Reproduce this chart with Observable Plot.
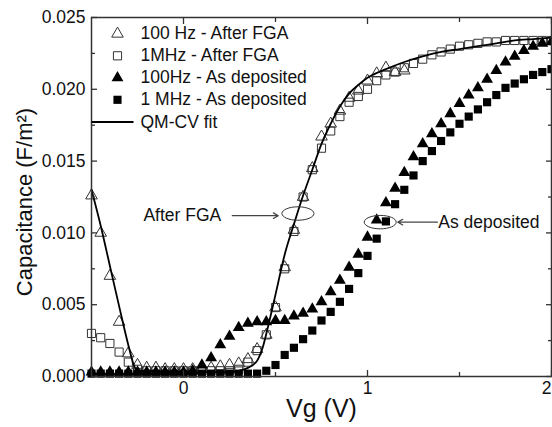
<!DOCTYPE html>
<html><head><meta charset="utf-8">
<script src="https://cdn.jsdelivr.net/npm/d3@7"></script>
<script src="https://cdn.jsdelivr.net/npm/@observablehq/plot@0.6"></script>
<style>html,body{margin:0;padding:0;background:#fff;}</style>
</head><body><div id="chart"></div>
<script>
// Gate voltage (V) at which the measured points were taken
const vg = [-0.5,-0.45,-0.4,-0.35,-0.3,-0.25,-0.2,-0.15,-0.1,-0.05,0,0.05,0.1,0.15,0.2,0.25,0.3,0.35,0.4,0.45,0.5,0.55,0.6,0.65,0.7,0.75,0.8,0.85,0.9,0.95,1.0,1.05,1.1,1.15,1.2,1.25,1.3,1.35,1.4,1.45,1.5,1.55,1.6,1.65,1.7,1.75,1.8,1.85,1.9,1.95,2.0];

// Capacitance (F/m^2)
const cap100HzFGA = [0.0126,0.0100,0.0070,0.0038,0.0016,0.0008,0.0006,0.0006,0.0005,0.0005,0.0005,0.0005,0.0005,0.0006,0.0007,0.0008,0.0009,0.0012,0.0019,0.0029,0.0048,0.0076,0.0102,0.0125,0.0145,0.0167,0.0176,0.0185,0.0194,0.0199,0.0206,0.0211,0.0215,0.0212,0.0213,null,null,null,null,null,null,null,null,null,null,null,null,null,null,null,null];
const cap1MHzFGA = [0.0030,0.0027,0.0023,0.0017,0.0010,0.0005,0.0004,0.0004,0.0004,0.0004,0.0004,0.0004,0.0004,0.0004,0.0004,0.0004,0.0005,0.0010,0.0018,0.0029,0.0048,0.0075,0.0101,0.0125,0.0144,0.0159,0.0171,0.0181,0.0191,0.0195,0.0200,0.0206,0.0210,0.0212,0.0215,0.0218,0.0221,0.0224,0.0226,0.0228,0.0230,0.0231,0.0232,0.0233,0.0233,0.0234,0.0234,0.0234,0.0234,0.0234,0.0234];
const cap100HzDep = [0.0003,0.0003,0.0003,0.0003,0.0003,0.0003,0.0003,0.0003,0.0003,0.0003,0.0003,0.0004,0.0008,0.0013,0.0022,0.0028,0.0034,0.0037,0.0038,0.0038,0.0039,0.0039,0.0042,0.0044,0.0047,0.0052,0.0059,0.0067,0.0076,0.0085,0.0097,0.0109,0.0121,0.0131,0.0142,0.0153,0.0162,0.0169,0.0176,0.0183,0.0190,0.0196,0.0201,0.0207,0.0213,0.0219,0.0223,0.0227,0.0230,0.0232,0.0233];
const cap1MHzDep = [0.0002,0.0002,0.0002,0.0002,0.0002,0.0002,0.0002,0.0002,0.0002,0.0002,0.0002,0.0002,0.0002,0.0002,0.0002,0.0002,0.0002,0.0002,0.0002,0.0004,0.0008,0.0015,0.0020,0.0026,0.0032,0.0039,0.0045,0.0052,0.0061,0.0072,0.0084,0.0096,0.0108,0.0120,0.0130,0.0140,0.0150,0.0157,0.0164,0.0170,0.0176,0.0181,0.0186,0.0191,0.0196,0.0201,0.0204,0.0207,0.0210,0.0212,0.0214];

// QM-CV fit curve
const fitV = [-0.5,-0.45,-0.4,-0.35,-0.3,-0.27,-0.25,0,0.25,0.3,0.35,0.4,0.43,0.46,0.5,0.55,0.6,0.65,0.7,0.75,0.8,0.85,0.9,0.95,1.0,1.1,1.2,1.3,1.4,1.5,1.6,1.7,1.8,1.9,2.0];
const fitC = [0.0130,0.0105,0.0077,0.0049,0.0022,0.0008,0.0004,0.0003,0.0003,0.0004,0.0006,0.0011,0.0020,0.0035,0.0057,0.0085,0.0106,0.0126,0.0144,0.0162,0.0176,0.0188,0.0197,0.0203,0.0208,0.0214,0.0219,0.0223,0.0226,0.0228,0.0230,0.0232,0.0234,0.0235,0.0236];

// Ticks
const xTicks = [0, 1, 2];
const xTickLabels = ["0", "1", "2"];
const xMinorTicks = [0.5, 1.5];
const yTicks = [0, 0.005, 0.01, 0.015, 0.02, 0.025];
const yTickLabels = ["0.000", "0.005", "0.010", "0.015", "0.020", "0.025"];
const yMinorTicks = [0.0025, 0.0075, 0.0125, 0.0175, 0.0225];

// Legend
const legendLabels = ["100 Hz - After FGA", "1MHz - After FGA", "100Hz - As deposited", "1 MHz - As deposited", "QM-CV fit"];

// Annotations
const noteLabels = ["After FGA", "As deposited"];
const noteTextV = [0.205, 1.385];
const noteC = [0.0112, 0.01075];
const arrowFromV = [0.265, 1.38];
const arrowToV = [0.515, 1.165];
const ellipseV = [0.622, 1.069];
const ellipseC = [0.01135, 0.01075];

const FONT = "'Liberation Sans', Arial, Helvetica, sans-serif";
const INK = "#333";

const ellipseSymbol = {
  draw(ctx, size) {
    const rx = Math.sqrt(size / Math.PI), ry = rx * 0.42;
    const kx = rx * 0.5523, ky = ry * 0.5523;
    ctx.moveTo(rx, 0);
    ctx.bezierCurveTo(rx, ky, kx, ry, 0, ry);
    ctx.bezierCurveTo(-kx, ry, -rx, ky, -rx, 0);
    ctx.bezierCurveTo(-rx, -ky, -kx, -ry, 0, -ry);
    ctx.bezierCurveTo(kx, -ry, rx, -ky, rx, 0);
    ctx.closePath();
  }
};
const hLineSymbol = {
  draw(ctx, size) {
    const r = Math.sqrt(size / Math.PI);
    ctx.moveTo(-r, 0);
    ctx.lineTo(r, 0);
  }
};

const legendSym = [
  {symbol: "triangle", fill: "none", stroke: INK, r: 4.3},
  {symbol: "square", fill: "none", stroke: INK, r: 4.6},
  {symbol: "triangle", fill: "black", stroke: "none", r: 4.4},
  {symbol: "square", fill: "black", stroke: "none", r: 4.6}
];
const legendDy = [16.3, 38.3, 60.3, 82.3, 104.5];

const tickFmtX = d => xTickLabels[xTicks.indexOf(d)];

const marks = [
  // data
  Plot.dot(vg, {x: d => d, y: cap1MHzFGA, symbol: "square", r: 4.6, fill: "none", stroke: INK, strokeWidth: 1}),
  Plot.dot(vg, {x: d => d, y: cap100HzFGA, symbol: "triangle", r: 4.3, fill: "none", stroke: INK, strokeWidth: 1}),
  Plot.dot(vg, {x: d => d, y: cap1MHzDep, symbol: "square", r: 4.6, fill: "black", stroke: "none"}),
  Plot.dot(vg, {x: d => d, y: cap100HzDep, symbol: "triangle", r: 4.4, fill: "black", stroke: "none"}),
  Plot.line(fitV, {x: d => d, y: fitC, stroke: "black", strokeWidth: 1.8, curve: "monotone-x"}),

  // annotations
  Plot.text([0], {x: noteTextV[0], y: noteC[0], text: () => noteLabels[0], textAnchor: "end", fontSize: 17.5, fill: "#111"}),
  Plot.text([1], {x: noteTextV[1], y: noteC[1], text: () => noteLabels[1], textAnchor: "start", fontSize: 17.5, fill: "#111"}),
  Plot.arrow([0, 1], {x1: i => arrowFromV[i], x2: i => arrowToV[i], y1: i => noteC[i], y2: i => noteC[i], stroke: "#444", strokeWidth: 1.2, headLength: 7}),
  Plot.dot([0, 1], {x: i => ellipseV[i], y: i => ellipseC[i], symbol: ellipseSymbol, r: 16, fill: "none", stroke: INK, strokeWidth: 1}),

  // frame
  Plot.frame({stroke: INK, strokeWidth: 1.5}),

  // axes: labels
  Plot.axisX(xTicks.slice(0, 2), {anchor: "bottom", tickSize: 0, tickPadding: 5, tickFormat: tickFmtX, fontSize: 17.5, fill: "#111", label: null}),
  Plot.axisX(xTicks.slice(2), {anchor: "bottom", tickSize: 0, tickPadding: 5, tickFormat: tickFmtX, fontSize: 17.5, fill: "#111", label: null, dx: -5}),
  Plot.axisY(yTicks, {anchor: "left", tickSize: 0, tickPadding: 6, tickFormat: d => yTickLabels[yTicks.indexOf(d)], fontSize: 17.5, fill: "#111", label: null}),
  // axes: inward ticks on all four sides
  Plot.axisX(xTicks, {anchor: "bottom", tickSize: -6, fill: "none", label: null, stroke: INK, strokeWidth: 1.3}),
  Plot.axisX(xMinorTicks, {anchor: "bottom", tickSize: -4, fill: "none", label: null, stroke: INK, strokeWidth: 1.3}),
  Plot.axisX(xTicks, {anchor: "top", tickSize: -6, fill: "none", label: null, stroke: INK, strokeWidth: 1.3}),
  Plot.axisX(xMinorTicks, {anchor: "top", tickSize: -4, fill: "none", label: null, stroke: INK, strokeWidth: 1.3}),
  Plot.axisY(yTicks, {anchor: "left", tickSize: -6, fill: "none", label: null, stroke: INK, strokeWidth: 1.3}),
  Plot.axisY(yMinorTicks, {anchor: "left", tickSize: -4, fill: "none", label: null, stroke: INK, strokeWidth: 1.3}),
  Plot.axisY(yTicks, {anchor: "right", tickSize: -6, fill: "none", label: null, stroke: INK, strokeWidth: 1.3}),
  Plot.axisY(yMinorTicks, {anchor: "right", tickSize: -4, fill: "none", label: null, stroke: INK, strokeWidth: 1.3}),

  // axis titles
  Plot.text(["Vg (V)"], {frameAnchor: "bottom", dy: 32, text: d => d, fontSize: 25, textAnchor: "middle", lineAnchor: "middle", fill: "#111"}),
  Plot.text(["Capacitance (F/m²)"], {frameAnchor: "left", dx: -67, dy: 5, rotate: -90, text: d => d, fontSize: 22, textAnchor: "middle", lineAnchor: "middle", fill: "#111"})
];

// legend
legendSym.forEach((s, i) => {
  marks.push(Plot.dot([legendLabels[i]], {frameAnchor: "top-left", dx: 26, dy: legendDy[i], symbol: s.symbol, r: s.r, fill: s.fill, stroke: s.stroke, strokeWidth: 1}));
});
marks.push(Plot.dot([legendLabels[4]], {frameAnchor: "top-left", dx: 21, dy: legendDy[4], symbol: hLineSymbol, r: 21, fill: "none", stroke: "black", strokeWidth: 1.8}));
legendLabels.forEach((lab, i) => {
  marks.push(Plot.text([lab], {frameAnchor: "top-left", dx: 49, dy: legendDy[i], text: d => d, textAnchor: "start", lineAnchor: "middle", fontSize: 17.5, fill: "#111"}));
});

const chart = Plot.plot({
  width: 552,
  height: 427,
  marginLeft: 91,
  marginRight: 1,
  marginTop: 17,
  marginBottom: 51,
  style: {fontFamily: FONT, background: "white", color: "#111", overflow: "visible"},
  x: {domain: [-0.5, 2], axis: null},
  y: {domain: [0, 0.025], axis: null},
  marks
});
document.getElementById("chart").appendChild(chart);
</script>
</body></html>
